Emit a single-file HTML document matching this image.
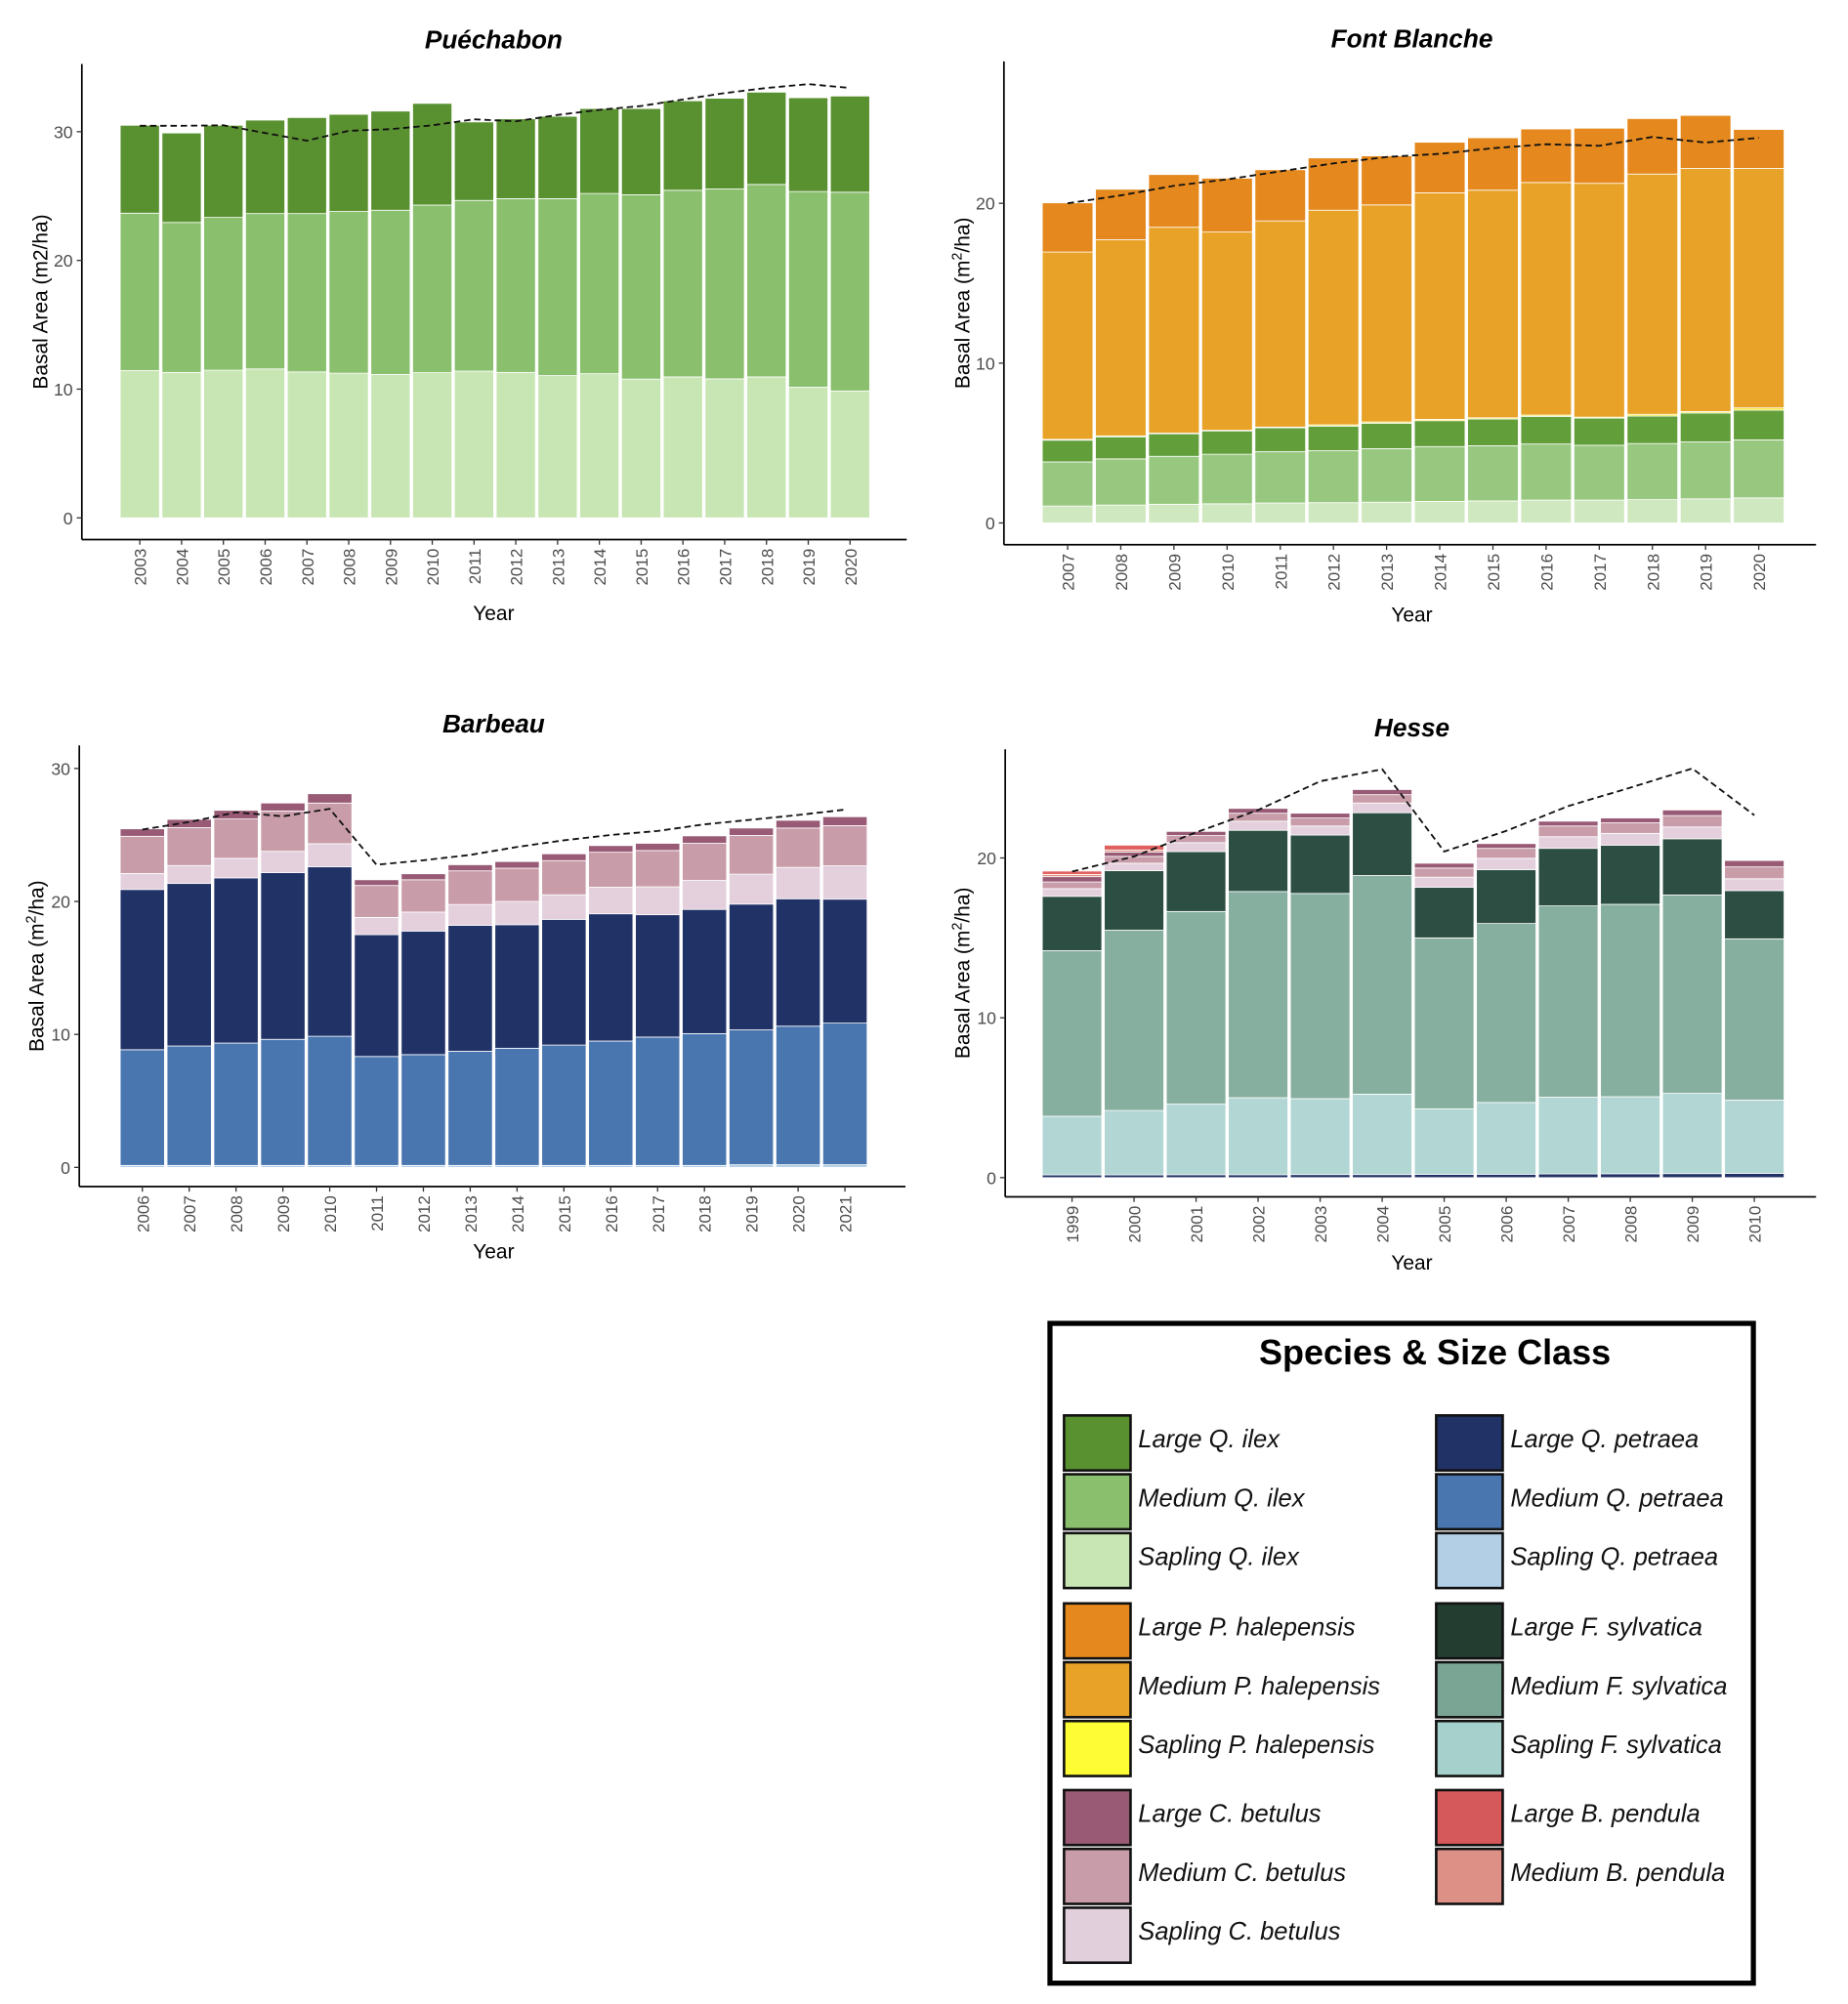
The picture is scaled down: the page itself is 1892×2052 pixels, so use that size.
<!DOCTYPE html>
<html><head><meta charset="utf-8">
<style>
html,body{margin:0;padding:0;background:#fff;}
svg{display:block;}
text{font-family:"Liberation Sans",sans-serif;}
</style></head>
<body>
<svg id="fig" width="1892" height="2052" viewBox="0 0 1445 1567.3" preserveAspectRatio="none" xmlns="http://www.w3.org/2000/svg">
<rect x="0" y="0" width="1445" height="1568" fill="#fff"/>
</svg>
<script>
// ---------- Puéchabon ----------
const pYears = [2003,2004,2005,2006,2007,2008,2009,2010,2011,2012,2013,2014,2015,2016,2017,2018,2019,2020];
const pSaplingIlex = [11.44,11.3,11.47,11.57,11.34,11.24,11.14,11.28,11.4,11.3,11.05,11.2,10.78,10.95,10.8,10.95,10.15,9.86];
const pMediumIlexTop = [23.67,22.95,23.34,23.64,23.64,23.8,23.9,24.3,24.66,24.8,24.8,25.2,25.1,25.45,25.55,25.9,25.35,25.3];
const pLargeIlexTop = [30.5,29.9,30.5,30.9,31.1,31.35,31.6,32.2,30.76,31.0,31.2,31.8,31.8,32.4,32.6,33.07,32.64,32.77];
const pTrend = [30.46,30.46,30.5,29.9,29.3,30.07,30.2,30.5,30.96,30.8,31.3,31.7,32.0,32.5,33.0,33.4,33.7,33.4];
const pTicks = [0,10,20,30];

// ---------- Font Blanche ----------
const fYears = [2007,2008,2009,2010,2011,2012,2013,2014,2015,2016,2017,2018,2019,2020];
const fSaplingIlex = [1.06,1.12,1.17,1.2,1.25,1.27,1.3,1.35,1.38,1.43,1.43,1.46,1.51,1.57];
const fMediumIlexTop = [3.82,4.01,4.17,4.3,4.46,4.52,4.65,4.78,4.83,4.94,4.86,4.97,5.07,5.2];
const fLargeIlexTop = [5.18,5.39,5.58,5.76,5.95,6.06,6.24,6.4,6.5,6.67,6.56,6.69,6.88,7.06];
const fSaplingPhTop = [5.23,5.45,5.62,5.8,6.0,6.14,6.32,6.48,6.58,6.75,6.62,6.8,6.97,7.2];
const fMediumPhTop = [16.95,17.72,18.5,18.2,18.9,19.57,19.9,20.66,20.82,21.3,21.25,21.83,22.18,22.18];
const fLargePhTop = [20.03,20.88,21.8,21.57,22.1,22.84,22.97,23.82,24.1,24.65,24.7,25.3,25.5,24.62];
const fTrend = [20.0,20.5,21.1,21.5,22.0,22.5,22.9,23.1,23.45,23.7,23.6,24.15,23.8,24.1];
const fTicks = [0,10,20];

// ---------- Barbeau ----------
const bYears = [2006,2007,2008,2009,2010,2011,2012,2013,2014,2015,2016,2017,2018,2019,2020,2021];
const bSaplingPetTop = [0.15,0.15,0.15,0.15,0.15,0.15,0.15,0.15,0.15,0.15,0.15,0.15,0.15,0.2,0.2,0.2];
const bMediumPetTop = [8.85,9.13,9.35,9.63,9.86,8.34,8.48,8.73,8.96,9.2,9.5,9.8,10.06,10.34,10.62,10.85];
const bLargePetTop = [20.9,21.35,21.77,22.17,22.6,17.5,17.77,18.2,18.25,18.65,19.07,19.0,19.4,19.8,20.2,20.17];
const bSaplingBetTop = [22.1,22.7,23.24,23.77,24.34,18.8,19.2,19.77,20.0,20.5,21.07,21.1,21.58,22.05,22.56,22.68];
const bMediumBetTop = [24.9,25.55,26.2,26.8,27.4,21.2,21.63,22.3,22.5,23.07,23.7,23.83,24.37,24.96,25.52,25.7];
const bLargeBetTop = [25.46,26.17,26.85,27.4,28.1,21.63,22.08,22.76,23.0,23.58,24.2,24.37,24.93,25.52,26.1,26.37];
const bTrend = [25.4,25.97,26.7,26.4,26.96,22.76,23.1,23.5,24.1,24.6,25.0,25.3,25.8,26.14,26.5,26.9];
const bTicks = [0,10,20,30];

// ---------- Hesse ----------
const hYears = [1999,2000,2001,2002,2003,2004,2005,2006,2007,2008,2009,2010];
const hLargePetTop = [0.17,0.17,0.18,0.18,0.19,0.19,0.2,0.21,0.23,0.24,0.25,0.26];
const hSaplingFsTop = [3.84,4.2,4.6,5.0,4.94,5.22,4.3,4.7,5.03,5.06,5.27,4.85];
const hMediumFsTop = [14.2,15.48,16.65,17.9,17.78,18.9,15.0,15.9,17.0,17.1,17.68,14.94];
const hLargeFsTop = [17.6,19.2,20.4,21.73,21.43,22.83,18.17,19.27,20.6,20.8,21.2,17.96];
const hSaplingBetTop = [18.08,19.67,20.96,22.3,22.0,23.44,18.8,19.98,21.33,21.54,21.94,18.7];
const hMediumBetTop = [18.5,20.1,21.4,22.8,22.5,23.96,19.37,20.6,22.0,22.2,22.65,19.44];
const hLargeBetTop = [18.83,20.37,21.66,23.1,22.8,24.28,19.67,20.9,22.3,22.5,23.0,19.84];
const hMediumBpTop = [18.97,20.5,21.66,23.1,22.8,24.28,19.67,20.9,22.3,22.5,23.0,19.84];
const hLargeBpTop = [19.18,20.8,21.66,23.1,22.8,24.28,19.67,20.9,22.3,22.5,23.0,19.84];
const hTrend = [19.15,20.1,21.6,23.0,24.8,25.55,20.4,21.7,23.25,24.4,25.6,22.67];
const hTicks = [0,10,20];

const NS = "http://www.w3.org/2000/svg";
const svg = document.getElementById('fig');
function mk(tag, attrs, parent){
  const e = document.createElementNS(NS, tag);
  for (const k in attrs) e.setAttribute(k, attrs[k]);
  (parent||svg).appendChild(e);
  return e;
}

function drawChart(c){
  const g = mk('g', {});
  
  
  const n = c.years.length;
  const step = (c.barR - c.barL) / n;
  const xc = i => c.barL + step * (i + 0.5);
  const y = v => c.y0 - v * c.ppu;
  for (let i = 0; i < n; i++){
    let prev = 0;
    for (let L = 0; L < c.layers.length; L++){
      const top = c.layers[L].vals[i];
      if (top - prev > 0.001){
        const r = mk('rect', {x: xc(i) - step/2 + 1, y: y(top), width: step - 2, height: (top - prev) * c.ppu, fill: c.layers[L].color, stroke:'#fff', 'stroke-width':0.6}, g);
        
        
      }
      prev = Math.max(prev, top);
    }
  }
  const pts = c.trend.map((v,i) => xc(i).toFixed(1) + ',' + y(v).toFixed(1)).join(' ');
  const pl = mk('polyline', {points: pts, fill:'none', stroke:'#111', 'stroke-width':1.4, 'stroke-dasharray':'5,3'}, g);
  
  
  const ya = mk('line', {x1:c.axX, y1:c.axTop, x2:c.axX, y2:c.axBot, stroke:'#000', 'stroke-width':1.3}, g);
  
  
  const xa = mk('line', {x1:c.axX, y1:c.axBot, x2:c.axR, y2:c.axBot, stroke:'#000', 'stroke-width':1.3}, g);
  
  
  c.ticks.forEach(t => {
    mk('line', {x1:c.axX-4, y1:y(t), x2:c.axX, y2:y(t), stroke:'#333', 'stroke-width':1}, g);
    const tl = mk('text', {x:c.axX-7, y:y(t)+5, 'text-anchor':'end', 'font-size':13.5, fill:'#4d4d4d'}, g);
    tl.textContent = t;
    
    
  });
  c.years.forEach((yr,i) => {
    mk('line', {x1:xc(i), y1:c.axBot, x2:xc(i), y2:c.axBot+4, stroke:'#333', 'stroke-width':1}, g);
    const tx = xc(i) + 5, ty = c.axBot + 7;
    const tl = mk('text', {x:tx, y:ty, 'text-anchor':'end', 'font-size':13, fill:'#4d4d4d', transform:'rotate(-90 '+tx+' '+ty+')'}, g);
    tl.textContent = yr;
    
    
  });
  const tt = mk('text', {x:c.titleX, y:c.titleY, 'text-anchor':'middle', 'font-size':20, 'font-weight':'bold', 'font-style':'italic'}, g);
  tt.textContent = c.title;
  
  
  const xt = mk('text', {x:c.titleX, y:c.xTitleY, 'text-anchor':'middle', 'font-size':16}, g);
  xt.textContent = 'Year';
  
  
  const ym = (c.axTop + c.axBot)/2;
  const yt = mk('text', {x:c.yTitleX, y:ym, 'text-anchor':'middle', 'font-size':16, transform:'rotate(-90 '+c.yTitleX+' '+ym+')'}, g);
  if (c.sup){
    yt.appendChild(document.createTextNode('Basal Area (m'));
    const s = document.createElementNS(NS,'tspan'); s.setAttribute('font-size','11'); s.setAttribute('dy','-6'); s.textContent='2'; yt.appendChild(s);
    const s2 = document.createElementNS(NS,'tspan'); s2.setAttribute('dy','6'); s2.textContent='/ha)'; yt.appendChild(s2);
  } else yt.textContent = 'Basal Area (m2/ha)';
  
  
}

drawChart({name:'puechabon-chart', title:'Puéchabon', years:pYears, ticks:pTicks, trend:pTrend,
  layers:[{key:'sapling-q-ilex',vals:pSaplingIlex,color:'#c8e6b3'},{key:'medium-q-ilex',vals:pMediumIlexTop,color:'#8abf6e'},{key:'large-q-ilex',vals:pLargeIlexTop,color:'#5a9130'}],
  barL:93, barR:681, y0:405, ppu:(405-103)/30, axX:64, axTop:50, axBot:422, axR:709, titleX:386, titleY:38, xTitleY:485, yTitleX:37, sup:false});

drawChart({name:'font-blanche-chart', title:'Font Blanche', years:fYears, ticks:fTicks, trend:fTrend,
  layers:[{key:'sapling-q-ilex',vals:fSaplingIlex,color:'#d0e8c0'},{key:'medium-q-ilex',vals:fMediumIlexTop,color:'#98c880'},{key:'large-q-ilex',vals:fLargeIlexTop,color:'#629e3a'},{key:'sapling-p-halepensis',vals:fSaplingPhTop,color:'#f5e62a'},{key:'medium-p-halepensis',vals:fMediumPhTop,color:'#e8a228'},{key:'large-p-halepensis',vals:fLargePhTop,color:'#e5891e'}],
  barL:814, barR:1396, y0:409, ppu:12.5, axX:785, axTop:48, axBot:426, axR:1420, titleX:1104, titleY:37, xTitleY:486, yTitleX:758, sup:true});

drawChart({name:'barbeau-chart', title:'Barbeau', years:bYears, ticks:bTicks, trend:bTrend,
  layers:[{key:'sapling-q-petraea',vals:bSaplingPetTop,color:'#b3cfe5'},{key:'medium-q-petraea',vals:bMediumPetTop,color:'#4a76b0'},{key:'large-q-petraea',vals:bLargePetTop,color:'#213267'},{key:'sapling-c-betulus',vals:bSaplingBetTop,color:'#e4d0dd'},{key:'medium-c-betulus',vals:bMediumBetTop,color:'#c89ca9'},{key:'large-c-betulus',vals:bLargeBetTop,color:'#985a74'}],
  barL:93, barR:679, y0:913, ppu:(913-601)/30, axX:62, axTop:583, axBot:928, axR:708, titleX:386, titleY:573, xTitleY:984, yTitleX:34, sup:true});

drawChart({name:'hesse-chart', title:'Hesse', years:hYears, ticks:hTicks, trend:hTrend,
  layers:[{key:'large-q-petraea',vals:hLargePetTop,color:'#213267'},{key:'sapling-f-sylvatica',vals:hSaplingFsTop,color:'#b1d6d4'},{key:'medium-f-sylvatica',vals:hMediumFsTop,color:'#87af9f'},{key:'large-f-sylvatica',vals:hLargeFsTop,color:'#2d4f43'},{key:'sapling-c-betulus',vals:hSaplingBetTop,color:'#e4d0dd'},{key:'medium-c-betulus',vals:hMediumBetTop,color:'#c89ca9'},{key:'large-c-betulus',vals:hLargeBetTop,color:'#985a74'},{key:'medium-b-pendula',vals:hMediumBpTop,color:'#dd9085'},{key:'large-b-pendula',vals:hLargeBpTop,color:'#e0605e'}],
  barL:814, barR:1396, y0:921, ppu:12.5, axX:786, axTop:586, axBot:936, axR:1420, titleX:1104, titleY:576, xTitleY:993, yTitleX:758, sup:true});

// ---------- Legend ----------
const legLeftLabels = ['Large Q. ilex','Medium Q. ilex','Sapling Q. ilex','Large P. halepensis','Medium P. halepensis','Sapling P. halepensis','Large C. betulus','Medium C. betulus','Sapling C. betulus'];
const legLeftColors = ['#5a9130','#8abf6e','#c8e6b3','#e5891e','#e8a228','#fdfc35','#985a74','#c89ca9','#e2cfdc'];
const legRightLabels = ['Large Q. petraea','Medium Q. petraea','Sapling Q. petraea','Large F. sylvatica','Medium F. sylvatica','Sapling F. sylvatica','Large B. pendula','Medium B. pendula'];
const legRightColors = ['#213267','#4a76b0','#b3cfe5','#233d31','#7aa595','#a6d0cb','#d5585a','#dd9085'];
const legRowY = [1107,1153,1199,1254,1300,1346,1400,1446,1492];

const lg = mk('g', {});


mk('rect', {x:821, y:1035, width:550, height:516, fill:'#fff', stroke:'#000', 'stroke-width':4}, lg);
const lt = mk('text', {x:1122, y:1067, 'text-anchor':'middle', 'font-size':27.5, 'font-weight':'bold'}, lg);
lt.textContent = 'Species & Size Class';


function legEntry(x, yy, color, label){
  const eg = mk('g', {}, lg);
  
  
  mk('rect', {x:x, y:yy, width:52, height:43, fill:color, stroke:'#111', 'stroke-width':2}, eg);
  const t = mk('text', {x:x+58, y:yy+25, 'font-size':19.5, 'font-style':'italic', fill:'#111'}, eg);
  t.textContent = label;
}
legLeftLabels.forEach((l,i) => legEntry(832, legRowY[i], legLeftColors[i], l));
legRightLabels.forEach((l,i) => legEntry(1123, legRowY[i], legRightColors[i], l));
</script>
</body></html>
